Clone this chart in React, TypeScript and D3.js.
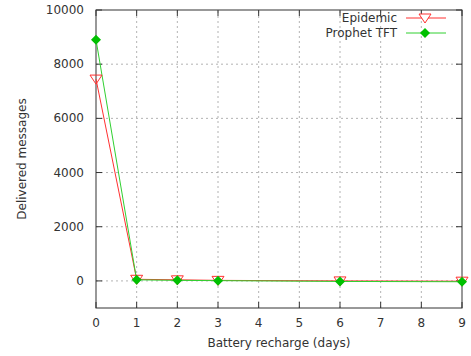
import * as d3 from 'd3';

const days = [0, 1, 2, 3, 6, 9];
const epidemic = [7450, 60, 40, 20, 0, -10];
const prophetTFT = [8900, 40, 20, 10, -20, -30];
const xTicks = [0, 1, 2, 3, 4, 5, 6, 7, 8, 9];
const yTicks = [0, 2000, 4000, 6000, 8000, 10000];

const W = 471;
const H = 356;
const margin = { top: 10, right: 9, bottom: 48, left: 96 };

const App = () => {
  const x = d3.scaleLinear().domain([0, 9]).range([margin.left, W - margin.right]);
  const y = d3.scaleLinear().domain([-1000, 10000]).range([H - margin.bottom, margin.top]);
  const line = d3
    .line<number>()
    .x((_, i) => x(days[i]))
    .y((d) => y(d));

  const x0 = x(0), x1 = x(9), y0 = y(-1000), y1 = y(10000);
  const font = 'DejaVu Sans, sans-serif';
  const tri = (cx: number, cy: number) =>
    `M${cx - 6},${cy - 4}L${cx + 6},${cy - 4}L${cx},${cy + 5}Z`;
  const dia = (cx: number, cy: number) =>
    `M${cx},${cy - 5}L${cx + 5},${cy}L${cx},${cy + 5}L${cx - 5},${cy}Z`;

  return (
    <svg width={W} height={H} style={{ position: 'absolute', left: 0, top: 0, background: '#fff' }}>
      {/* grid */}
      <g stroke="#a0a0a0" strokeWidth={0.8} strokeDasharray="2,3">
        {xTicks.slice(1, -1).map((t) => (
          <line key={'gx' + t} x1={x(t)} x2={x(t)} y1={y0} y2={y1} />
        ))}
        {yTicks.slice(0, -1).map((t) => (
          <line key={'gy' + t} x1={x0} x2={x1} y1={y(t)} y2={y(t)} />
        ))}
      </g>
      {/* ticks */}
      <g stroke="#333" strokeWidth={1}>
        {xTicks.map((t) => (
          <g key={'tx' + t}>
            <line x1={x(t)} x2={x(t)} y1={y0} y2={y0 - 6} />
            <line x1={x(t)} x2={x(t)} y1={y1} y2={y1 + 6} />
          </g>
        ))}
        {yTicks.map((t) => (
          <g key={'ty' + t}>
            <line x1={x0} x2={x0 + 6} y1={y(t)} y2={y(t)} />
            <line x1={x1} x2={x1 - 6} y1={y(t)} y2={y(t)} />
          </g>
        ))}
      </g>
      <rect x={x0} y={y1} width={x1 - x0} height={y0 - y1} fill="none" stroke="#333" strokeWidth={1} />
      {/* labels */}
      <g fontFamily={font} fontSize={12} fill="#333">
        {xTicks.map((t) => (
          <text key={'lx' + t} x={x(t)} y={y0 + 19} textAnchor="middle">
            {t}
          </text>
        ))}
        {yTicks.map((t) => (
          <text key={'ly' + t} x={x0 - 12} y={y(t) + 4} textAnchor="end">
            {t}
          </text>
        ))}
        <text x={(x0 + x1) / 2} y={347} textAnchor="middle">
          Battery recharge (days)
        </text>
        <text transform={`translate(26,${(y0 + y1) / 2}) rotate(-90)`} textAnchor="middle">
          Delivered messages
        </text>
      </g>
      {/* series */}
      <path d={line(epidemic) ?? ''} fill="none" stroke="#ff3030" strokeWidth={1} />
      <path d={line(prophetTFT) ?? ''} fill="none" stroke="#30d030" strokeWidth={1} />
      {epidemic.map((v, i) => (
        <path key={'e' + i} d={tri(x(days[i]), y(v))} fill="none" stroke="#ff3030" strokeWidth={1} />
      ))}
      {prophetTFT.map((v, i) => (
        <path key={'p' + i} d={dia(x(days[i]), y(v))} fill="#00c000" />
      ))}
      {/* legend */}
      <g fontFamily={font} fontSize={12} fill="#333">
        <text x={397} y={22} textAnchor="end">Epidemic</text>
        <text x={397} y={37} textAnchor="end">Prophet TFT</text>
      </g>
      <line x1={406} x2={446} y1={18} y2={18} stroke="#ff3030" />
      <path d={tri(425, 18)} fill="#fff" stroke="#ff3030" />
      <line x1={406} x2={446} y1={33} y2={33} stroke="#30d030" />
      <path d={dia(425, 33)} fill="#00c000" />
    </svg>
  );
};

export default App;
